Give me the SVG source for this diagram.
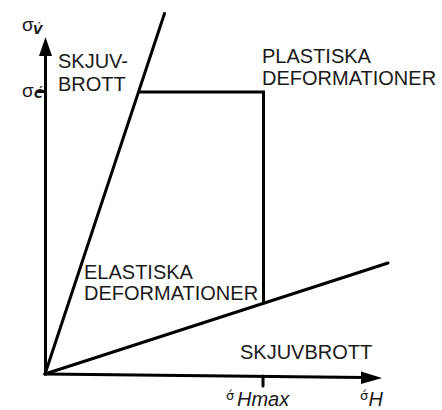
<svg xmlns="http://www.w3.org/2000/svg" width="442" height="410" viewBox="0 0 442 410">
<style>
.ln{stroke:#000;stroke-width:3;fill:none;stroke-linecap:round;stroke-linejoin:miter}
.lab{font-family:"Liberation Sans",Arial,sans-serif;font-size:20px;fill:#1a1a1a}
.sym{font-family:"Liberation Sans",Arial,sans-serif;fill:#1a1a1a}
.cmb{font-family:"DejaVu Sans",sans-serif}
.it{font-style:italic}
</style>
<rect width="442" height="410" fill="#fff"/>
<g id="connectors">
  <g id="axes">
    <line class="ln" x1="45.5" y1="374" x2="45.5" y2="52"/>
    <polygon points="45.5,37 39,56 52,56" fill="#000"/>
    <line class="ln" x1="45" y1="374" x2="364" y2="377.5"/>
    <polygon points="382,378 361,371.5 361,384" fill="#000"/>
    <line class="ln" x1="38" y1="91.5" x2="45" y2="91.5"/>
    <line class="ln" x1="263" y1="376" x2="263" y2="386"/>
  </g>
  <line id="steep-line" class="ln" x1="45" y1="374" x2="164.5" y2="13.5"/>
  <line id="shallow-line" class="ln" x1="45" y1="374" x2="388" y2="263"/>
  <polyline id="yield-box" class="ln" stroke-width="2.6" points="139,92 263.5,92 263.5,303"/>
</g>
<g id="label-sigma-v">
  <text class="sym" x="22" y="31" font-size="19">σ<tspan class="it cmb" x="33" y="33.5" font-size="12" font-weight="bold">V́</tspan></text>
</g>
<g id="label-sigma-c">
  <text class="sym" x="22" y="96.5" font-size="19">σ<tspan class="it cmb" x="34" y="98" font-size="12" font-weight="bold">Ć</tspan></text>
</g>
<g id="skjuvbrott-top">
  <text class="lab" x="58" y="68">SKJUV-</text>
  <text class="lab" x="58" y="90.5">BROTT</text>
</g>
<g id="plastiska">
  <text class="lab" x="262" y="63">PLASTISKA</text>
  <text class="lab" x="262" y="85">DEFORMATIONER</text>
</g>
<g id="elastiska">
  <text class="lab" x="84" y="279">ELASTISKA</text>
  <text class="lab" x="84" y="300">DEFORMATIONER</text>
</g>
<g id="skjuvbrott-bottom">
  <text class="lab" x="240" y="359">SKJUVBROTT</text>
</g>
<g id="label-hmax">
  <text class="sym cmb" x="226" y="400" font-size="13">σ́<tspan class="sym it" x="237" y="405.5" font-size="20">Hmax</tspan></text>
</g>
<g id="label-h">
  <text class="sym cmb" x="360" y="400" font-size="13">σ́<tspan class="sym it" x="368.5" y="405.5" font-size="20">H</tspan></text>
</g>
</svg>
